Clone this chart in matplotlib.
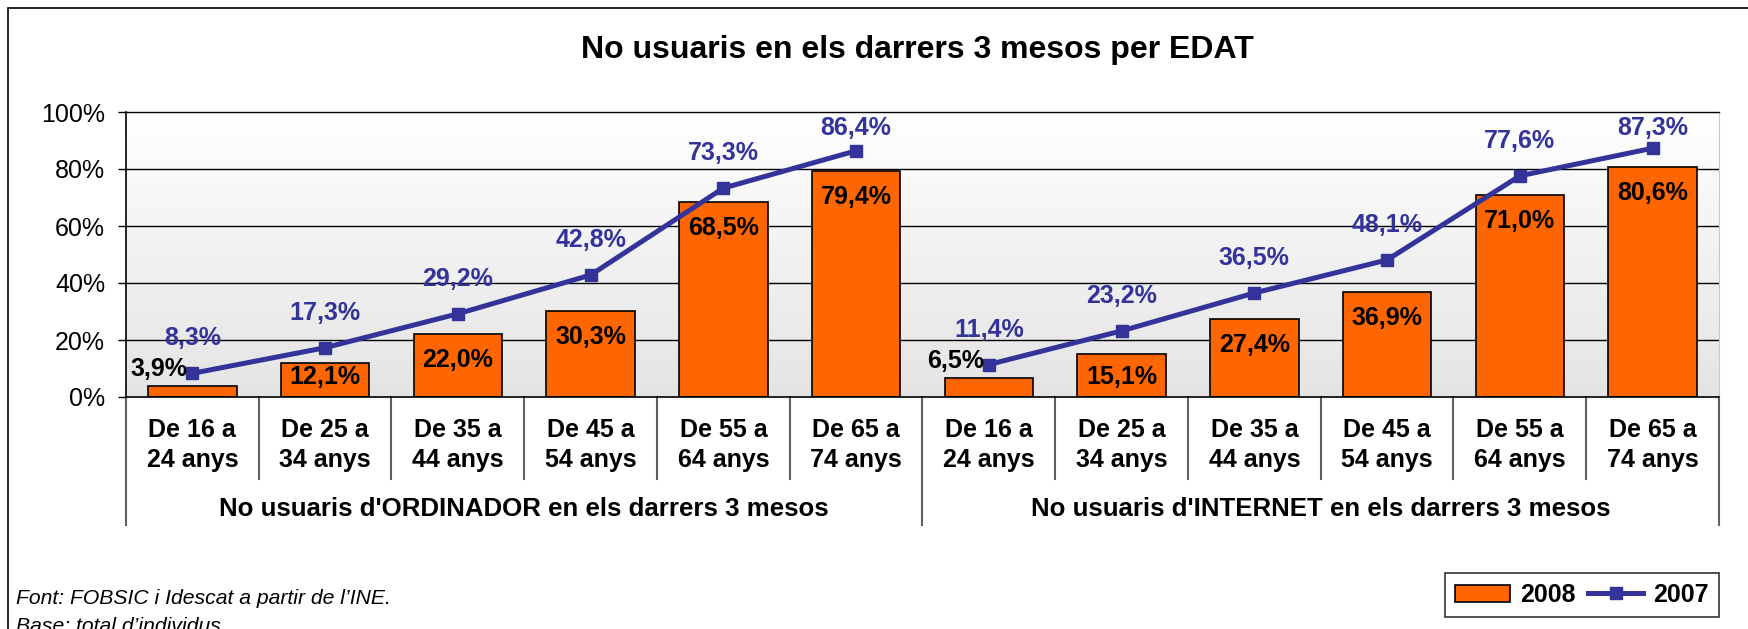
import matplotlib
matplotlib.use("Agg")
import matplotlib.pyplot as plt
import numpy as np
from matplotlib.colors import LinearSegmentedColormap
from matplotlib.patches import Rectangle, Patch
from matplotlib.lines import Line2D
import matplotlib.transforms as mtransforms

plt.rcParams['font.family'] = ['Liberation Sans', 'DejaVu Sans']

# data
age_groups = ["De 16 a\n24 anys", "De 25 a\n34 anys", "De 35 a\n44 anys",
              "De 45 a\n54 anys", "De 55 a\n64 anys", "De 65 a\n74 anys"]
groups = ["No usuaris d'ORDINADOR en els darrers 3 mesos",
          "No usuaris d'INTERNET en els darrers 3 mesos"]
ordinador_2008 = [3.9, 12.1, 22.0, 30.3, 68.5, 79.4]
ordinador_2007 = [8.3, 17.3, 29.2, 42.8, 73.3, 86.4]
internet_2008 = [6.5, 15.1, 27.4, 36.9, 71.0, 80.6]
internet_2007 = [11.4, 23.2, 36.5, 48.1, 77.6, 87.3]
y_ticks = [0, 20, 40, 60, 80, 100]

orange = '#FF6600'
blue = '#333399'

def pct(v):
    return ("%.1f%%" % v).replace('.', ',')

W, H = 1749, 629
fig = plt.figure(figsize=(W / 100, H / 100), dpi=100)
left, right, top, bottom = 126, 1719, 112, 397
ax = fig.add_axes([left / W, 1 - bottom / H, (right - left) / W, (bottom - top) / H])
px_per_unit = (bottom - top) / 100.0

vals_2008 = ordinador_2008 + internet_2008
vals_2007 = [ordinador_2007, internet_2007]
n = len(vals_2008)
x = np.arange(n)

# gradient background
cmap = LinearSegmentedColormap.from_list('bg', ['#FFFFFF', '#E4E4E4'])
ax.imshow(np.linspace(0, 1, 256).reshape(-1, 1), extent=[-0.5, n - 0.5, 0, 100],
          aspect='auto', cmap=cmap, zorder=0)

ax.set_xlim(-0.5, n - 0.5)
ax.set_ylim(0, 100)
ax.set_yticks(y_ticks)
ax.set_yticklabels(["%d%%" % t for t in y_ticks], fontsize=18)
ax.tick_params(axis='y', length=6, width=1, pad=9, direction='out')
ax.set_xticks([])
for yv in y_ticks[1:-1]:
    ax.axhline(yv, color='black', lw=1, zorder=1)
ax.spines['left'].set_linewidth(1.2)
ax.spines['bottom'].set_linewidth(1.2)
ax.spines['top'].set_linewidth(1)
ax.spines['right'].set_color('#C8C8C8')

# bars
ax.bar(x, vals_2008, width=0.667, color=orange, edgecolor='black', lw=1.2, zorder=2)
for xi, v in zip(x, vals_2008):
    if v < 10:
        ax.annotate(pct(v), (xi, v), xytext=(-33, 17), textcoords='offset pixels',
                    ha='center', va='center', fontsize=18, fontweight='bold', zorder=5)
    else:
        dy = max(-26, -(v * px_per_unit - 20))
        ax.annotate(pct(v), (xi, v), xytext=(0, dy), textcoords='offset pixels',
                    ha='center', va='center', fontsize=18, fontweight='bold', zorder=5)

# lines 2007
for g, series in enumerate(vals_2007):
    xs = x[g * 6:(g + 1) * 6]
    ax.plot(xs, series, color=blue, lw=3.6, marker='s', ms=8.5, zorder=3, clip_on=False)
    for xi, v in zip(xs, series):
        ylab = min(v + 35 / px_per_unit, 94.5)
        ax.text(xi, ylab, pct(v), ha='center', va='center', fontsize=18,
                fontweight='bold', color=blue, zorder=5)

# category labels and separators
trans = mtransforms.blended_transform_factory(ax.transData, ax.transAxes)
ax_h = bottom - top
for xi, lab in zip(x, age_groups * 2):
    ax.text(xi, -(445 - bottom) / ax_h, lab, transform=trans, ha='center', va='center',
            fontsize=18, fontweight='bold', linespacing=1.3)
for k in range(n + 1):
    xs = k - 0.5
    if k % 6 == 0:
        ax.plot([xs, xs], [0, -(525 - bottom) / ax_h], transform=trans, color='#606060',
                lw=1.5, clip_on=False)
    else:
        ax.plot([xs, xs], [0, -(479 - bottom) / ax_h], transform=trans, color='#606060',
                lw=1.5, clip_on=False)
for g, lab in enumerate(groups):
    ax.text(g * 6 + 2.5, -(509 - bottom) / ax_h, lab, transform=trans, ha='center',
            va='center', fontsize=18.6, fontweight='bold')

# title
fig.text(917 / W, 1 - 50 / H, "No usuaris en els darrers 3 mesos per EDAT",
         ha='center', va='center', fontsize=23, fontweight='bold')

# legend
handles = [Patch(facecolor=orange, edgecolor='black', lw=1.2),
           Line2D([0], [0], color=blue, lw=3.6, marker='s', ms=8.5)]
leg = fig.legend(handles, ['2008', '2007'], loc='lower right',
                 bbox_to_anchor=(right / W, 1 - 617 / H), ncol=2,
                 prop={'weight': 'bold', 'size': 18}, frameon=True, fancybox=False,
                 edgecolor='black', handlelength=2.2, handletextpad=0.4,
                 columnspacing=0.5, borderpad=0.4, borderaxespad=0)
leg.get_frame().set_linewidth(1.2)

# footnote
fig.text(16 / W, 1 - 599 / H, "Font: FOBSIC i Idescat a partir de l\u2019INE.",
         fontsize=15.2, style='italic', va='center')
fig.text(16 / W, 1 - 626 / H, "Base: total d\u2019individus.",
         fontsize=15.2, style='italic', va='center')

# outer border
fig.add_artist(Rectangle((8 / W, -0.05), 1.0, 1.05 - 8 / H, transform=fig.transFigure,
                         fill=False, edgecolor='black', lw=1.2))

fig.savefig('out.png', dpi=100)
